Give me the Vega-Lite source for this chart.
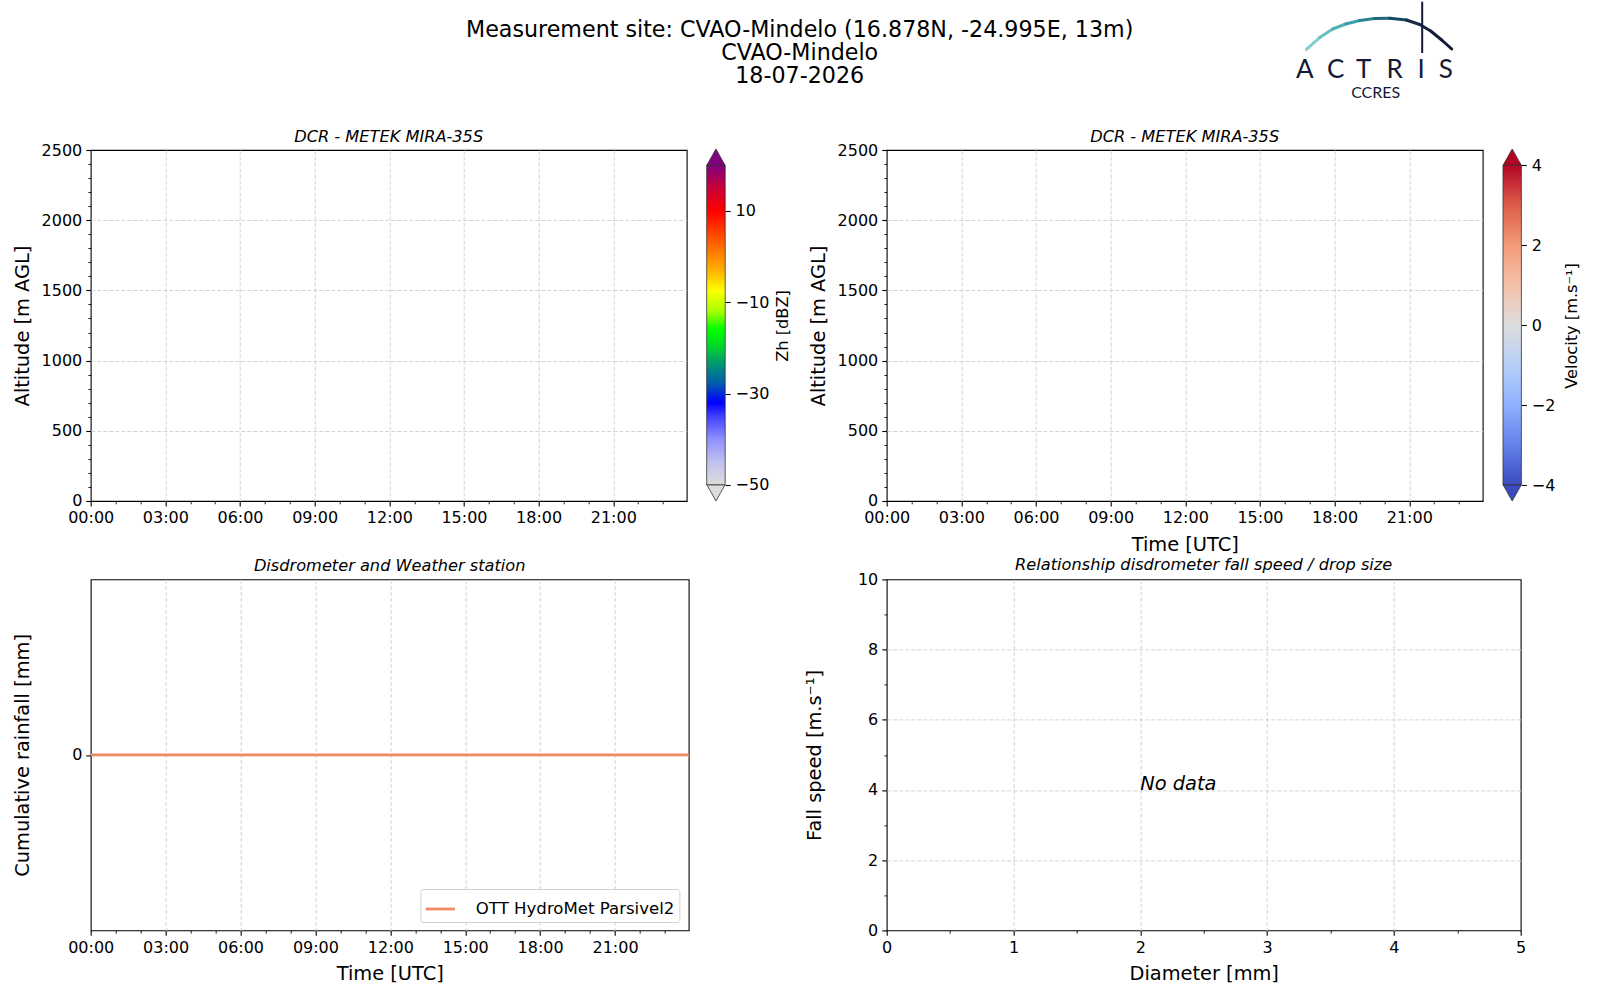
{
  "$schema": "https://vega.github.io/schema/vega-lite/v6.json",
  "background": "white",
  "padding": {"left": 10.7, "top": 0, "right": 5, "bottom": 5},
  "config": {
    "font": "DejaVu Sans",
    "view": {"stroke": "black", "strokeWidth": 1.1},
    "axis": {
      "domain": false,
      "labelFont": "DejaVu Sans", "labelFontSize": 16, "labelColor": "black",
      "labelPadding": 4, "labelFlush": false, "labelOverlap": false, "labelBound": false,
      "tickColor": "black",
      "titleFont": "DejaVu Sans", "titleFontSize": 19.4, "titleFontWeight": "normal", "titleColor": "black",
      "gridColor": "#d4d4d4", "gridDash": [4, 2], "gridWidth": 1
    },
    "title": {"font": "DejaVu Sans", "fontWeight": "normal", "color": "black", "fontSize": 16.2},
    "legend": {
      "labelFont": "DejaVu Sans", "labelFontSize": 16.6, "labelColor": "black", "labelLimit": 0,
      "symbolType": "stroke", "symbolSize": 850, "symbolStrokeWidth": 2.8,
      "strokeColor": "#d0d0d0", "fillColor": "white", "padding": 4, "cornerRadius": 3, "labelOffset": 19.4
    }
  },
  "spacing": 26,
  "vconcat": [
    {
      "width": 1418, "height": 100,
      "view": {"stroke": null},
      "title": {
        "text": ["Measurement site: CVAO-Mindelo (16.878N, -24.995E, 13m)", "CVAO-Mindelo", "18-07-2026"],
        "fontSize": 22.2, "lineHeight": 23, "anchor": "middle", "frame": "group",
        "baseline": "top", "offset": -87.6
      },
      "layer": [
        {
          "data": {"values": [
            {"lx": 10.7, "ly": 49.3, "lx2": 24, "ly2": 37.5, "t": 0.0},
            {"lx": 24, "ly": 37.5, "lx2": 37, "ly2": 29, "t": 0.1},
            {"lx": 37, "ly": 29, "lx2": 50, "ly2": 24, "t": 0.2},
            {"lx": 50, "ly": 24, "lx2": 64, "ly2": 20.5, "t": 0.3},
            {"lx": 64, "ly": 20.5, "lx2": 79, "ly2": 18.6, "t": 0.4},
            {"lx": 79, "ly": 18.6, "lx2": 94, "ly2": 18.3, "t": 0.5},
            {"lx": 94, "ly": 18.3, "lx2": 110.7, "ly2": 20, "t": 0.6},
            {"lx": 110.7, "ly": 20, "lx2": 124, "ly2": 24.5, "t": 0.7},
            {"lx": 124, "ly": 24.5, "lx2": 135, "ly2": 31, "t": 0.8},
            {"lx": 135, "ly": 31, "lx2": 146, "ly2": 40, "t": 0.9},
            {"lx": 146, "ly": 40, "lx2": 156, "ly2": 49, "t": 1.0}
          ]},
          "mark": {"type": "rule", "strokeWidth": 3, "strokeCap": "round"},
          "encoding": {
            "x": {"field": "lx", "type": "quantitative", "scale": {"domain": [0, 160], "range": [1205, 1365], "nice": false, "zero": false}, "axis": null},
            "y": {"field": "ly", "type": "quantitative", "scale": {"domain": [0, 100], "range": [0, 100], "nice": false, "zero": false}, "axis": null},
            "x2": {"field": "lx2"},
            "y2": {"field": "ly2"},
            "color": {"field": "t", "type": "quantitative", "scale": {"domain": [0, 0.3, 0.5, 0.7, 1], "range": ["#7fd0cc", "#3a9eaa", "#226878", "#182a4a", "#121830"]}, "legend": null}
          }
        },
        {
          "data": {"values": [{"lx": 126.5, "ly": 1.7, "ly2": 53}]},
          "mark": {"type": "rule", "color": "#141a35", "strokeWidth": 2},
          "encoding": {
            "x": {"field": "lx", "type": "quantitative"},
            "y": {"field": "ly", "type": "quantitative"},
            "y2": {"field": "ly2"}
          }
        },
        {
          "data": {"values": [
            {"lx": 9, "ly": 78.3, "ch": "A"},
            {"lx": 40, "ly": 78.3, "ch": "C"},
            {"lx": 68, "ly": 78.3, "ch": "T"},
            {"lx": 99, "ly": 78.3, "ch": "R"},
            {"lx": 125.5, "ly": 78.3, "ch": "I"},
            {"lx": 150, "ly": 78.3, "ch": "S"}
          ]},
          "mark": {"type": "text", "font": "Lato", "fontWeight": 400, "fontSize": 26, "color": "#141a35", "baseline": "alphabetic", "align": "center"},
          "encoding": {
            "x": {"field": "lx", "type": "quantitative"},
            "y": {"field": "ly", "type": "quantitative"},
            "text": {"field": "ch"}
          }
        },
        {
          "data": {"values": [{"lx": 80, "ly": 98.3, "word": "CCRES"}]},
          "mark": {"type": "text", "font": "Lato", "fontSize": 16, "color": "#141a35", "baseline": "alphabetic", "align": "center"},
          "encoding": {
            "x": {"field": "lx", "type": "quantitative"},
            "y": {"field": "ly", "type": "quantitative"},
            "text": {"field": "word"}
          }
        }
      ]
    },
    {
      "columns": 2,
      "bounds": "flush",
      "align": "each",
      "spacing": {"row": 78.4, "column": 198},
      "concat": [
        {
          "width": 596, "height": 351,
          "title": {"text": "DCR - METEK MIRA-35S", "fontStyle": "italic", "anchor": "middle", "frame": "group", "offset": -3.3},
          "resolve": {"scale": {"x": "independent", "y": "independent"}},
          "layer": [
            {
              "data": {"values": []},
              "mark": "point",
              "encoding": {
                "x": {
                  "field": "time", "type": "temporal",
                  "scale": {"type": "utc", "nice": false, "domain": [{"year": 2026, "month": 7, "date": 18, "hours": 0, "utc": true}, {"year": 2026, "month": 7, "date": 18, "hours": 23, "minutes": 57, "utc": true}]},
                  "axis": {
                    "title": null, "grid": true,
                    "values": [
                      {"year": 2026, "month": 7, "date": 18, "hours": 0, "utc": true}, {"year": 2026, "month": 7, "date": 18, "hours": 1, "utc": true},
                      {"year": 2026, "month": 7, "date": 18, "hours": 2, "utc": true}, {"year": 2026, "month": 7, "date": 18, "hours": 3, "utc": true},
                      {"year": 2026, "month": 7, "date": 18, "hours": 4, "utc": true}, {"year": 2026, "month": 7, "date": 18, "hours": 5, "utc": true},
                      {"year": 2026, "month": 7, "date": 18, "hours": 6, "utc": true}, {"year": 2026, "month": 7, "date": 18, "hours": 7, "utc": true},
                      {"year": 2026, "month": 7, "date": 18, "hours": 8, "utc": true}, {"year": 2026, "month": 7, "date": 18, "hours": 9, "utc": true},
                      {"year": 2026, "month": 7, "date": 18, "hours": 10, "utc": true}, {"year": 2026, "month": 7, "date": 18, "hours": 11, "utc": true},
                      {"year": 2026, "month": 7, "date": 18, "hours": 12, "utc": true}, {"year": 2026, "month": 7, "date": 18, "hours": 13, "utc": true},
                      {"year": 2026, "month": 7, "date": 18, "hours": 14, "utc": true}, {"year": 2026, "month": 7, "date": 18, "hours": 15, "utc": true},
                      {"year": 2026, "month": 7, "date": 18, "hours": 16, "utc": true}, {"year": 2026, "month": 7, "date": 18, "hours": 17, "utc": true},
                      {"year": 2026, "month": 7, "date": 18, "hours": 18, "utc": true}, {"year": 2026, "month": 7, "date": 18, "hours": 19, "utc": true},
                      {"year": 2026, "month": 7, "date": 18, "hours": 20, "utc": true}, {"year": 2026, "month": 7, "date": 18, "hours": 21, "utc": true},
                      {"year": 2026, "month": 7, "date": 18, "hours": 22, "utc": true}, {"year": 2026, "month": 7, "date": 18, "hours": 23, "utc": true}
                    ],
                    "labelExpr": "utchours(datum.value) % 3 == 0 ? utcFormat(datum.value, '%H:%M') : ''",
                    "tickSize": {"condition": {"test": "utchours(datum.value) % 3 == 0", "value": 4.9}, "value": 2.8},
                    "tickWidth": {"condition": {"test": "utchours(datum.value) % 3 == 0", "value": 1.1}, "value": 0.85},
                    "gridOpacity": {"condition": {"test": "utchours(datum.value) % 3 == 0 && utchours(datum.value) > 0", "value": 1}, "value": 0}
                  }
                },
                "y": {
                  "field": "altitude", "type": "quantitative",
                  "scale": {"domain": [0, 2500], "nice": false, "zero": false},
                  "axis": {
                    "orient": "left", "title": "Altitude [m AGL]", "titleX": -68.6, "titleBaseline": "middle", "grid": true,
                    "values": [0, 100, 200, 300, 400, 500, 600, 700, 800, 900, 1000, 1100, 1200, 1300, 1400, 1500, 1600, 1700, 1800, 1900, 2000, 2100, 2200, 2300, 2400, 2500],
                    "labelExpr": "datum.value % 500 == 0 ? format(datum.value, 'd') : ''",
                    "tickSize": {"condition": {"test": "datum.value % 500 == 0", "value": 4.9}, "value": 2.8},
                    "tickWidth": {"condition": {"test": "datum.value % 500 == 0", "value": 1.1}, "value": 0.85},
                    "gridOpacity": {"condition": {"test": "datum.value % 500 == 0 && datum.value > 0 && datum.value < 2500", "value": 1}, "value": 0}
                  }
                }
              }
            },
            {
              "layer": [
                {
                  "data": {"values": [{"v": -50, "v2": 20}]},
                  "mark": {
                    "type": "rect", "stroke": "#333333", "strokeWidth": 0.8,
                    "fill": {"gradient": "linear", "x1": 0, "y1": 1, "x2": 0, "y2": 0, "stops": [
                      {"offset": 0, "color": "#dcdcdc"},
                      {"offset": 0.0714, "color": "#c0c0ee"},
                      {"offset": 0.1429, "color": "#9090ff"},
                      {"offset": 0.2143, "color": "#4040ff"},
                      {"offset": 0.2571, "color": "#0000ff"},
                      {"offset": 0.3143, "color": "#0058b0"},
                      {"offset": 0.3714, "color": "#00907a"},
                      {"offset": 0.4429, "color": "#00e020"},
                      {"offset": 0.4857, "color": "#00ff00"},
                      {"offset": 0.5429, "color": "#a8ff00"},
                      {"offset": 0.6071, "color": "#ffff00"},
                      {"offset": 0.6714, "color": "#ffb000"},
                      {"offset": 0.7571, "color": "#ff6000"},
                      {"offset": 0.8571, "color": "#ff0000"},
                      {"offset": 0.9286, "color": "#c80038"},
                      {"offset": 1, "color": "#800080"}
                    ]}
                  },
                  "encoding": {
                    "x": {"datum": 0, "type": "quantitative", "scale": {"domain": [0, 1], "range": [616, 634.5], "nice": false, "zero": false}, "axis": null},
                    "x2": {"datum": 1},
                    "y": {
                      "field": "v", "type": "quantitative",
                      "scale": {"domain": [-53.5, 23.28], "nice": false, "zero": false},
                      "axis": {
                        "orient": "right", "offset": 38.5, "title": "Zh [dBZ]", "titleFontSize": 16.2, "titleAngle": 270,
                        "titleX": 57.6, "titleBaseline": "middle", "grid": false,
                        "values": [-50, -30, -10, 10], "format": "d", "tickSize": 4.9, "tickWidth": 1.1, "labelPadding": 5
                      }
                    },
                    "y2": {"field": "v2"}
                  }
                },
                {
                  "data": {"values": [{"v": 20}]},
                  "mark": {"type": "point", "shape": "M-1,0L0,-1.78L1,0Z", "size": 324, "filled": true, "fill": "#800080", "stroke": "#333333", "strokeWidth": 0.8, "opacity": 1},
                  "encoding": {"x": {"datum": 0.5, "type": "quantitative"}, "y": {"field": "v", "type": "quantitative"}}
                },
                {
                  "data": {"values": [{"v": -50}]},
                  "mark": {"type": "point", "shape": "M-1,0L0,1.78L1,0Z", "size": 324, "filled": true, "fill": "#dcdcdc", "stroke": "#333333", "strokeWidth": 0.8, "opacity": 1},
                  "encoding": {"x": {"datum": 0.5, "type": "quantitative"}, "y": {"field": "v", "type": "quantitative"}}
                }
              ]
            }
          ]
        },
        {
          "width": 596, "height": 351,
          "title": {"text": "DCR - METEK MIRA-35S", "fontStyle": "italic", "anchor": "middle", "frame": "group", "offset": -3.3},
          "resolve": {"scale": {"x": "independent", "y": "independent"}},
          "layer": [
            {
              "data": {"values": []},
              "mark": "point",
              "encoding": {
                "x": {
                  "field": "time", "type": "temporal",
                  "scale": {"type": "utc", "nice": false, "domain": [{"year": 2026, "month": 7, "date": 18, "hours": 0, "utc": true}, {"year": 2026, "month": 7, "date": 18, "hours": 23, "minutes": 57, "utc": true}]},
                  "axis": {
                    "title": "Time [UTC]", "titleY": 43.5, "titleBaseline": "middle", "grid": true,
                    "values": [
                      {"year": 2026, "month": 7, "date": 18, "hours": 0, "utc": true}, {"year": 2026, "month": 7, "date": 18, "hours": 1, "utc": true},
                      {"year": 2026, "month": 7, "date": 18, "hours": 2, "utc": true}, {"year": 2026, "month": 7, "date": 18, "hours": 3, "utc": true},
                      {"year": 2026, "month": 7, "date": 18, "hours": 4, "utc": true}, {"year": 2026, "month": 7, "date": 18, "hours": 5, "utc": true},
                      {"year": 2026, "month": 7, "date": 18, "hours": 6, "utc": true}, {"year": 2026, "month": 7, "date": 18, "hours": 7, "utc": true},
                      {"year": 2026, "month": 7, "date": 18, "hours": 8, "utc": true}, {"year": 2026, "month": 7, "date": 18, "hours": 9, "utc": true},
                      {"year": 2026, "month": 7, "date": 18, "hours": 10, "utc": true}, {"year": 2026, "month": 7, "date": 18, "hours": 11, "utc": true},
                      {"year": 2026, "month": 7, "date": 18, "hours": 12, "utc": true}, {"year": 2026, "month": 7, "date": 18, "hours": 13, "utc": true},
                      {"year": 2026, "month": 7, "date": 18, "hours": 14, "utc": true}, {"year": 2026, "month": 7, "date": 18, "hours": 15, "utc": true},
                      {"year": 2026, "month": 7, "date": 18, "hours": 16, "utc": true}, {"year": 2026, "month": 7, "date": 18, "hours": 17, "utc": true},
                      {"year": 2026, "month": 7, "date": 18, "hours": 18, "utc": true}, {"year": 2026, "month": 7, "date": 18, "hours": 19, "utc": true},
                      {"year": 2026, "month": 7, "date": 18, "hours": 20, "utc": true}, {"year": 2026, "month": 7, "date": 18, "hours": 21, "utc": true},
                      {"year": 2026, "month": 7, "date": 18, "hours": 22, "utc": true}, {"year": 2026, "month": 7, "date": 18, "hours": 23, "utc": true}
                    ],
                    "labelExpr": "utchours(datum.value) % 3 == 0 ? utcFormat(datum.value, '%H:%M') : ''",
                    "tickSize": {"condition": {"test": "utchours(datum.value) % 3 == 0", "value": 4.9}, "value": 2.8},
                    "tickWidth": {"condition": {"test": "utchours(datum.value) % 3 == 0", "value": 1.1}, "value": 0.85},
                    "gridOpacity": {"condition": {"test": "utchours(datum.value) % 3 == 0 && utchours(datum.value) > 0", "value": 1}, "value": 0}
                  }
                },
                "y": {
                  "field": "altitude", "type": "quantitative",
                  "scale": {"domain": [0, 2500], "nice": false, "zero": false},
                  "axis": {
                    "orient": "left", "title": "Altitude [m AGL]", "titleX": -68.6, "titleBaseline": "middle", "grid": true,
                    "values": [0, 100, 200, 300, 400, 500, 600, 700, 800, 900, 1000, 1100, 1200, 1300, 1400, 1500, 1600, 1700, 1800, 1900, 2000, 2100, 2200, 2300, 2400, 2500],
                    "labelExpr": "datum.value % 500 == 0 ? format(datum.value, 'd') : ''",
                    "tickSize": {"condition": {"test": "datum.value % 500 == 0", "value": 4.9}, "value": 2.8},
                    "tickWidth": {"condition": {"test": "datum.value % 500 == 0", "value": 1.1}, "value": 0.85},
                    "gridOpacity": {"condition": {"test": "datum.value % 500 == 0 && datum.value > 0 && datum.value < 2500", "value": 1}, "value": 0}
                  }
                }
              }
            },
            {
              "layer": [
                {
                  "data": {"values": [{"v": -4, "v2": 4}]},
                  "mark": {
                    "type": "rect", "stroke": "#333333", "strokeWidth": 0.8,
                    "fill": {"gradient": "linear", "x1": 0, "y1": 1, "x2": 0, "y2": 0, "stops": [
                      {"offset": 0, "color": "#3b4cc0"},
                      {"offset": 0.125, "color": "#6282ea"},
                      {"offset": 0.25, "color": "#8db0fe"},
                      {"offset": 0.375, "color": "#b7cff9"},
                      {"offset": 0.5, "color": "#dddddd"},
                      {"offset": 0.625, "color": "#f5c1a9"},
                      {"offset": 0.75, "color": "#f49a7b"},
                      {"offset": 0.875, "color": "#dc5d4a"},
                      {"offset": 1, "color": "#b40426"}
                    ]}
                  },
                  "encoding": {
                    "x": {"datum": 0, "type": "quantitative", "scale": {"domain": [0, 1], "range": [616.3, 634.7], "nice": false, "zero": false}, "axis": null},
                    "x2": {"datum": 1},
                    "y": {
                      "field": "v", "type": "quantitative",
                      "scale": {"domain": [-4.4, 4.375], "nice": false, "zero": false},
                      "axis": {
                        "orient": "right", "offset": 38.7, "title": "Velocity [m.s⁻¹]", "titleFontSize": 16.2, "titleAngle": 270,
                        "titleX": 49.8, "titleBaseline": "middle", "grid": false,
                        "values": [-4, -2, 0, 2, 4], "format": "d", "tickSize": 4.9, "tickWidth": 1.1, "labelPadding": 5
                      }
                    },
                    "y2": {"field": "v2"}
                  }
                },
                {
                  "data": {"values": [{"v": 4}]},
                  "mark": {"type": "point", "shape": "M-1,0L0,-1.78L1,0Z", "size": 324, "filled": true, "fill": "#b40426", "stroke": "#333333", "strokeWidth": 0.8, "opacity": 1},
                  "encoding": {"x": {"datum": 0.5, "type": "quantitative"}, "y": {"field": "v", "type": "quantitative"}}
                },
                {
                  "data": {"values": [{"v": -4}]},
                  "mark": {"type": "point", "shape": "M-1,0L0,1.78L1,0Z", "size": 324, "filled": true, "fill": "#3b4cc0", "stroke": "#333333", "strokeWidth": 0.8, "opacity": 1},
                  "encoding": {"x": {"datum": 0.5, "type": "quantitative"}, "y": {"field": "v", "type": "quantitative"}}
                }
              ]
            }
          ]
        },
        {
          "width": 598, "height": 351,
          "title": {"text": "Disdrometer and Weather station", "fontStyle": "italic", "anchor": "middle", "frame": "group", "offset": 5.6},
          "data": {"values": [
            {"time": "2026-07-18T00:00:00Z", "rain": 0, "sensor": "OTT HydroMet Parsivel2"},
            {"time": "2026-07-18T04:00:00Z", "rain": 0, "sensor": "OTT HydroMet Parsivel2"},
            {"time": "2026-07-18T08:00:00Z", "rain": 0, "sensor": "OTT HydroMet Parsivel2"},
            {"time": "2026-07-18T12:00:00Z", "rain": 0, "sensor": "OTT HydroMet Parsivel2"},
            {"time": "2026-07-18T16:00:00Z", "rain": 0, "sensor": "OTT HydroMet Parsivel2"},
            {"time": "2026-07-18T20:00:00Z", "rain": 0, "sensor": "OTT HydroMet Parsivel2"},
            {"time": "2026-07-18T23:57:00Z", "rain": 0, "sensor": "OTT HydroMet Parsivel2"}
          ]},
          "mark": {"type": "line", "strokeWidth": 2.8},
          "encoding": {
            "x": {
              "field": "time", "type": "temporal",
              "scale": {"type": "utc", "nice": false, "domain": [{"year": 2026, "month": 7, "date": 18, "hours": 0, "utc": true}, {"year": 2026, "month": 7, "date": 18, "hours": 23, "minutes": 57, "utc": true}]},
              "axis": {
                "title": "Time [UTC]", "titleY": 43.5, "titleBaseline": "middle", "grid": true,
                "values": [
                  {"year": 2026, "month": 7, "date": 18, "hours": 0, "utc": true}, {"year": 2026, "month": 7, "date": 18, "hours": 1, "utc": true},
                  {"year": 2026, "month": 7, "date": 18, "hours": 2, "utc": true}, {"year": 2026, "month": 7, "date": 18, "hours": 3, "utc": true},
                  {"year": 2026, "month": 7, "date": 18, "hours": 4, "utc": true}, {"year": 2026, "month": 7, "date": 18, "hours": 5, "utc": true},
                  {"year": 2026, "month": 7, "date": 18, "hours": 6, "utc": true}, {"year": 2026, "month": 7, "date": 18, "hours": 7, "utc": true},
                  {"year": 2026, "month": 7, "date": 18, "hours": 8, "utc": true}, {"year": 2026, "month": 7, "date": 18, "hours": 9, "utc": true},
                  {"year": 2026, "month": 7, "date": 18, "hours": 10, "utc": true}, {"year": 2026, "month": 7, "date": 18, "hours": 11, "utc": true},
                  {"year": 2026, "month": 7, "date": 18, "hours": 12, "utc": true}, {"year": 2026, "month": 7, "date": 18, "hours": 13, "utc": true},
                  {"year": 2026, "month": 7, "date": 18, "hours": 14, "utc": true}, {"year": 2026, "month": 7, "date": 18, "hours": 15, "utc": true},
                  {"year": 2026, "month": 7, "date": 18, "hours": 16, "utc": true}, {"year": 2026, "month": 7, "date": 18, "hours": 17, "utc": true},
                  {"year": 2026, "month": 7, "date": 18, "hours": 18, "utc": true}, {"year": 2026, "month": 7, "date": 18, "hours": 19, "utc": true},
                  {"year": 2026, "month": 7, "date": 18, "hours": 20, "utc": true}, {"year": 2026, "month": 7, "date": 18, "hours": 21, "utc": true},
                  {"year": 2026, "month": 7, "date": 18, "hours": 22, "utc": true}, {"year": 2026, "month": 7, "date": 18, "hours": 23, "utc": true}
                ],
                "labelExpr": "utchours(datum.value) % 3 == 0 ? utcFormat(datum.value, '%H:%M') : ''",
                "tickSize": {"condition": {"test": "utchours(datum.value) % 3 == 0", "value": 4.9}, "value": 2.8},
                "tickWidth": {"condition": {"test": "utchours(datum.value) % 3 == 0", "value": 1.1}, "value": 0.85},
                "gridOpacity": {"condition": {"test": "utchours(datum.value) % 3 == 0 && utchours(datum.value) > 0", "value": 1}, "value": 0}
              }
            },
            "y": {
              "field": "rain", "type": "quantitative",
              "scale": {"domain": [-0.055, 0.055], "nice": false, "zero": false},
              "axis": {
                "title": "Cumulative rainfall [mm]", "titleX": -68.6, "titleBaseline": "middle", "grid": true,
                "values": [0], "format": "d", "tickSize": 4.9, "tickWidth": 1.1
              }
            },
            "color": {"field": "sensor", "type": "nominal", "scale": {"range": ["#ef8a62"]}, "legend": {"title": null, "orient": "none", "legendX": 329.7, "legendY": 739}}
          }
        },
        {
          "width": 634, "height": 351,
          "title": {"text": "Relationship disdrometer fall speed / drop size", "fontStyle": "italic", "anchor": "middle", "frame": "group", "offset": -2},
          "data": {"values": [{"diameter": 2, "speed": 4, "message": "No data"}]},
          "mark": {"type": "text", "align": "left", "baseline": "alphabetic", "fontStyle": "italic", "fontSize": 19.4, "color": "black"},
          "encoding": {
            "x": {
              "field": "diameter", "type": "quantitative",
              "scale": {"domain": [0, 5], "nice": false, "zero": false},
              "axis": {
                "title": "Diameter [mm]", "titleY": 43.5, "titleBaseline": "middle", "grid": true,
                "values": [0, 0.5, 1, 1.5, 2, 2.5, 3, 3.5, 4, 4.5, 5],
                "labelExpr": "datum.value % 1 == 0 ? format(datum.value, 'd') : ''",
                "tickSize": {"condition": {"test": "datum.value % 1 == 0", "value": 4.9}, "value": 2.8},
                "tickWidth": {"condition": {"test": "datum.value % 1 == 0", "value": 1.1}, "value": 0.85},
                "gridOpacity": {"condition": {"test": "datum.value % 1 == 0 && datum.value > 0 && datum.value < 5", "value": 1}, "value": 0}
              }
            },
            "y": {
              "field": "speed", "type": "quantitative",
              "scale": {"domain": [0, 10], "nice": false, "zero": false},
              "axis": {
                "title": "Fall speed [m.s⁻¹]", "titleX": -72, "titleBaseline": "middle", "grid": true,
                "values": [0, 1, 2, 3, 4, 5, 6, 7, 8, 9, 10],
                "labelExpr": "datum.value % 2 == 0 ? format(datum.value, 'd') : ''",
                "tickSize": {"condition": {"test": "datum.value % 2 == 0", "value": 4.9}, "value": 2.8},
                "tickWidth": {"condition": {"test": "datum.value % 2 == 0", "value": 1.1}, "value": 0.85},
                "gridOpacity": {"condition": {"test": "datum.value % 2 == 0 && datum.value > 0 && datum.value < 10", "value": 1}, "value": 0}
              }
            },
            "text": {"field": "message"}
          }
        }
      ]
    }
  ]
}
